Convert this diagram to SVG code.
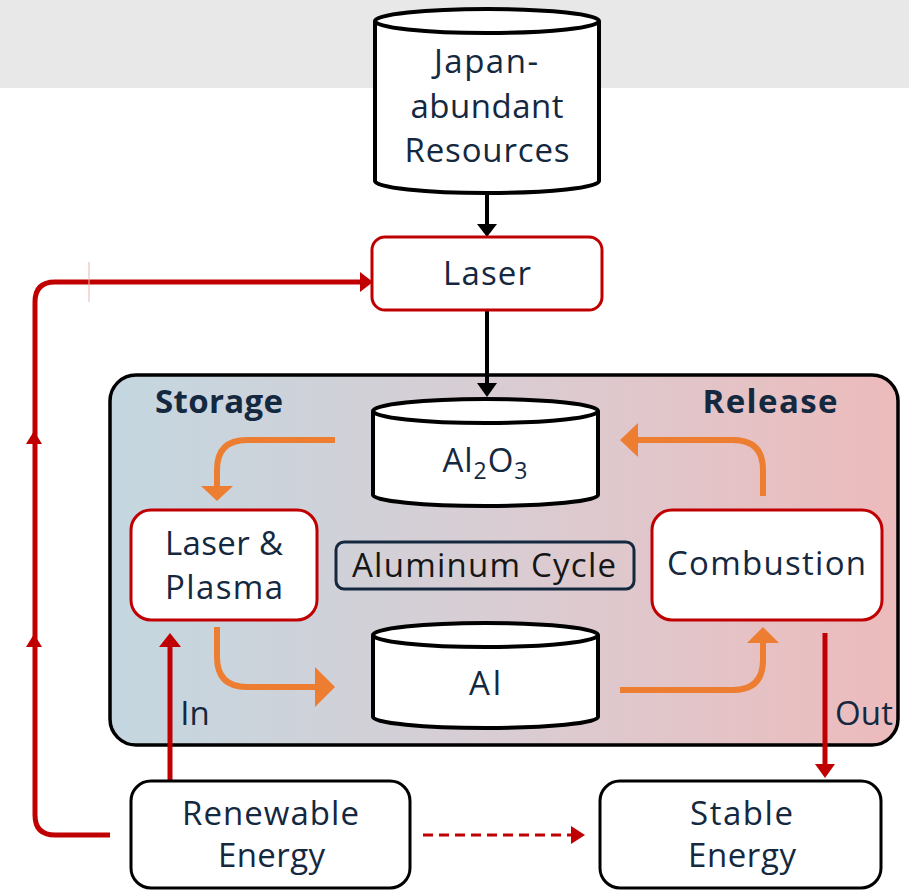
<svg xmlns="http://www.w3.org/2000/svg" width="909" height="891" viewBox="0 0 909 891">
<style>
.t{font-family:"Open Sans","Noto Sans","Liberation Sans",sans-serif;fill:#14283F;text-anchor:middle;font-size:33px}
.b{font-weight:bold}
.cyl{fill:#fff;stroke:#000;stroke-width:4}
.rbox{fill:#fff;stroke:#C00000;stroke-width:3}
.kbox{fill:#fff;stroke:#000;stroke-width:3}
.red{fill:none;stroke:#C00000;stroke-width:5}
.org{fill:none;stroke:#ED7D31;stroke-width:6}
.blk{fill:none;stroke:#000;stroke-width:4}
</style>
<defs>
<linearGradient id="g" x1="0" y1="0" x2="1" y2="0">
<stop offset="0" stop-color="#C4D7E0"/>
<stop offset="0.5" stop-color="#D9CDD3"/>
<stop offset="1" stop-color="#EDBBBC"/>
</linearGradient>
</defs>
<rect x="0" y="0" width="909" height="88" fill="#E8E8E8"/>
<g id="cycle-area">
<rect x="110" y="375" width="788" height="370" rx="26" fill="url(#g)" stroke="#000" stroke-width="3.5"/>
<text class="t b" x="219" y="413" textLength="128">Storage</text>
<text class="t b" x="770" y="413" textLength="135">Release</text>
</g>
<g id="connectors">
<path class="blk" d="M487,193 V226"/>
<path d="M477,224 L497,224 L487,237 Z" fill="#000"/>
<path class="blk" d="M487,310 V386"/>
<path d="M477,383 L497,383 L487,397 Z" fill="#000"/>
<path class="org" d="M335,440 H247 Q217,440 217,470 V488"/>
<path d="M201,486 L233,486 L217,501 Z" fill="#ED7D31"/>
<path class="org" d="M217,627 V657 Q217,687 247,687 H317"/>
<path d="M315,667 L315,707 L335,687 Z" fill="#ED7D31"/>
<path class="org" d="M620,690 H733 Q763,690 763,660 V642"/>
<path d="M747,643 L779,643 L763,627 Z" fill="#ED7D31"/>
<path class="org" d="M763,496 V470 Q763,440 733,440 H636"/>
<path d="M638,423 L638,457 L620,440 Z" fill="#ED7D31"/>
<path class="red" d="M170,780 V645"/>
<path d="M159,647 L181,647 L170,633 Z" fill="#C00000"/>
<path class="red" d="M825,633 V766"/>
<path d="M815,764 L835,764 L825,778 Z" fill="#C00000"/>
<path class="red" d="M110,835 H55 Q35,835 35,815 V302 Q35,282 55,282 H362"/>
<path d="M360,272 L360,292 L373,282 Z" fill="#C00000"/>
<path d="M26,444 L42,444 L34,431 Z" fill="#C00000"/>
<path d="M26,647 L42,647 L34,634 Z" fill="#C00000"/>
<line x1="89" y1="262" x2="89" y2="302" stroke="#EBB4B4" stroke-width="1"/>
<path d="M423,835 H571" fill="none" stroke="#C00000" stroke-width="3" stroke-dasharray="10,6"/>
<path d="M571,826 L571,844 L585,835 Z" fill="#C00000"/>
<text class="t" x="195" y="725">In</text>
<text class="t" x="864" y="725" textLength="58">Out</text>
</g>
<g id="japan-resources">
<path class="cyl" d="M375,21 A112,12 0 0 1 599,21 V181 A112,12 0 0 1 375,181 Z"/>
<path class="cyl" d="M375,21 A112,12 0 0 0 599,21"/>
<text class="t" x="486" y="73" textLength="104">Japan-</text>
<text class="t" x="487" y="118" textLength="153">abundant</text>
<text class="t" x="487" y="162" textLength="165">Resources</text>
</g>
<g id="laser">
<rect class="rbox" x="372" y="237" width="230" height="73" rx="13"/>
<text class="t" x="487" y="285" textLength="88">Laser</text>
</g>
<g id="al2o3">
<path class="cyl" d="M373,411 A112.5,12 0 0 1 598,411 V495 A112.5,11 0 0 1 373,495 Z"/>
<path class="cyl" d="M373,411 A112.5,12 0 0 0 598,411"/>
<text class="t" x="485" y="472" textLength="85">Al<tspan font-size="23" dy="7">2</tspan><tspan dy="-7">O</tspan><tspan font-size="23" dy="7">3</tspan></text>
</g>
<g id="al">
<path class="cyl" d="M373,635 A112.5,12 0 0 1 598,635 V717 A112.5,11 0 0 1 373,717 Z"/>
<path class="cyl" d="M373,635 A112.5,12 0 0 0 598,635"/>
<text class="t" x="485" y="695" textLength="32">Al</text>
</g>
<g id="laser-plasma">
<rect class="rbox" x="131" y="510" width="186" height="110" rx="20"/>
<text class="t" x="224" y="555" textLength="118">Laser &amp;</text>
<text class="t" x="224" y="599" textLength="118">Plasma</text>
</g>
<g id="aluminum-cycle">
<rect x="336" y="542" width="298" height="47" rx="8" fill="none" stroke="#14283F" stroke-width="3"/>
<text class="t" x="484" y="577" textLength="264" style="fill:#161616">Aluminum Cycle</text>
</g>
<g id="combustion">
<rect class="rbox" x="652" y="510" width="230" height="110" rx="20"/>
<text class="t" x="766.5" y="575" textLength="199">Combustion</text>
</g>
<g id="renewable-energy">
<rect class="kbox" x="131" y="781" width="279" height="107" rx="20"/>
<text class="t" x="270.5" y="825" textLength="177">Renewable</text>
<text class="t" x="271.5" y="867" textLength="107">Energy</text>
</g>
<g id="stable-energy">
<rect class="kbox" x="600" y="781" width="281" height="107" rx="20"/>
<text class="t" x="741.5" y="825" textLength="103">Stable</text>
<text class="t" x="742" y="867" textLength="108">Energy</text>
</g>
</svg>
